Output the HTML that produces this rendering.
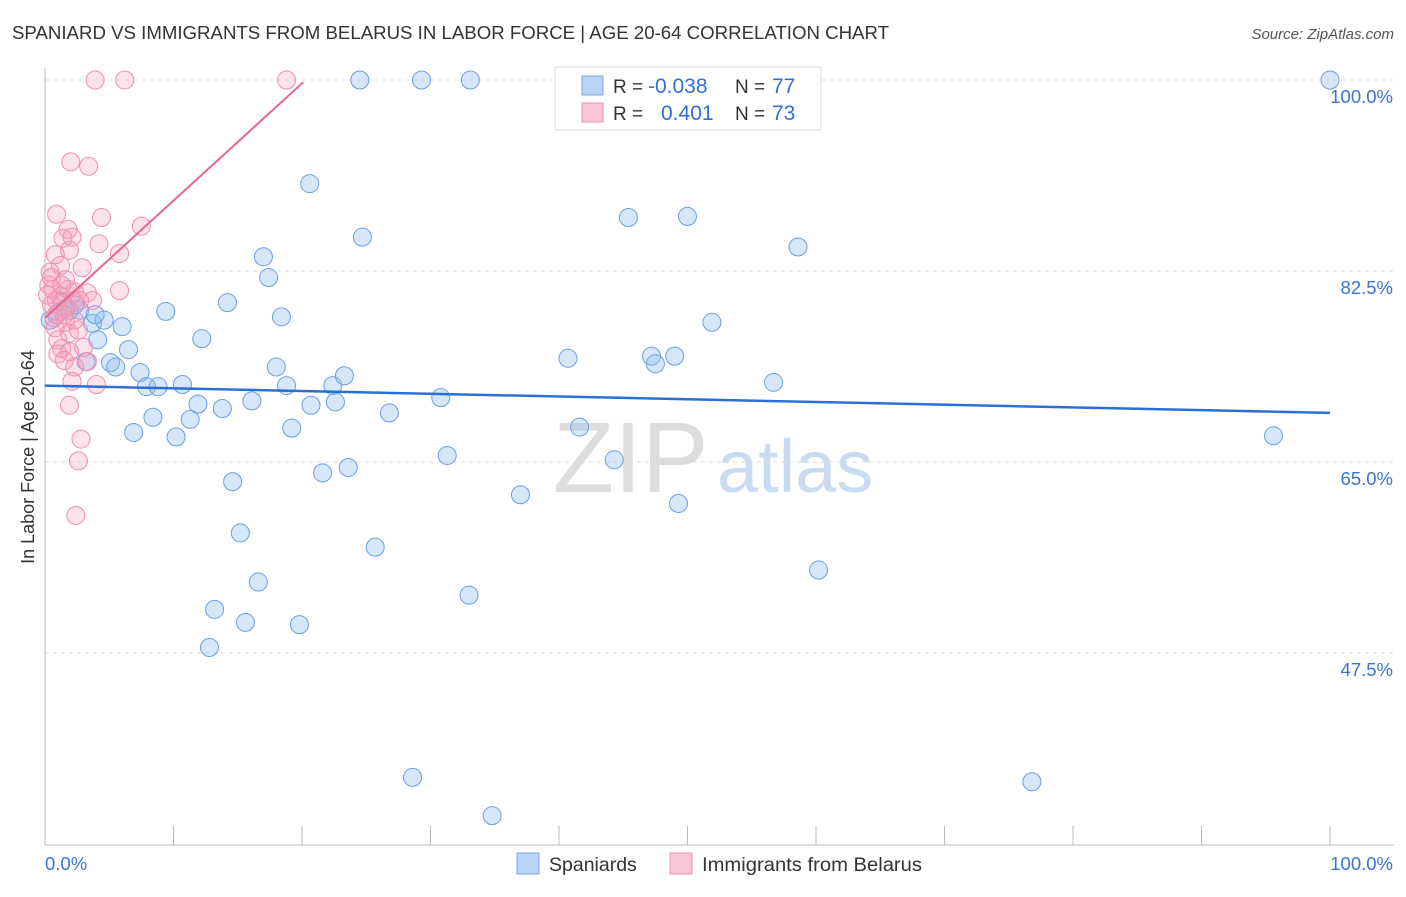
<!DOCTYPE html>
<html><head><meta charset="utf-8"><style>
body{margin:0;background:#fff;font-family:"Liberation Sans",sans-serif}
svg text{font-family:"Liberation Sans",sans-serif}
</style></head><body>
<svg id="chart" width="1406" height="892" xmlns="http://www.w3.org/2000/svg">
<text x="12" y="39" font-size="18.5" fill="#333" textLength="877" lengthAdjust="spacingAndGlyphs">SPANIARD VS IMMIGRANTS FROM BELARUS IN LABOR FORCE | AGE 20-64 CORRELATION CHART</text>
<text x="1394" y="39" font-size="15" fill="#555" text-anchor="end" font-style="italic">Source: ZipAtlas.com</text>
<g>
<text x="553" y="492" font-size="100" fill="#ddd" font-family="Liberation Serif">ZIP</text>
<text x="717" y="492" font-size="74" fill="#c9dbf1">atlas</text>
</g>
<g id="grid"></g>
<g id="axes"></g>
<g id="marks"></g>
<text transform="translate(34,457) rotate(-90)" font-size="18" fill="#333" text-anchor="middle">In Labor Force | Age 20-64</text>
<g>
<rect x="555" y="67" width="266" height="63" fill="#fff" stroke="#ddd"/>
<rect x="582" y="76" width="21" height="19" fill="#b8d3f5" stroke="#7aa7e6"/>
<rect x="582" y="103" width="21" height="19" fill="#f9c6d6" stroke="#ef92b0"/>
<text x="613" y="93" font-size="19" fill="#333">R = <tspan x="648" fill="#2f6fd6" font-size="21">-0.038</tspan><tspan x="735">N = </tspan><tspan x="772" fill="#2f6fd6" font-size="21">77</tspan></text>
<text x="613" y="120" font-size="19" fill="#333">R = <tspan x="661" fill="#2f6fd6" font-size="21">0.401</tspan><tspan x="735">N = </tspan><tspan x="772" fill="#2f6fd6" font-size="21">73</tspan></text>
</g>
<g>
<rect x="517" y="853" width="22" height="21" fill="#b8d3f5" stroke="#7aa7e6"/>
<text x="549" y="871" font-size="19.5" fill="#333">Spaniards</text>
<rect x="670" y="853" width="22" height="21" fill="#f9c6d6" stroke="#ef92b0"/>
<text x="702" y="871" font-size="19.5" fill="#333" textLength="220" lengthAdjust="spacingAndGlyphs">Immigrants from Belarus</text>
</g>
</svg>
<script>
const yTicks=[100,82.5,65,47.5];
const yTickLabels=["100.0%","82.5%","65.0%","47.5%"];
const xTickLabels=["0.0%","100.0%"];
const blueX=[0.4,1.3,1.9,3.7,4.1,4.6,6.0,6.5,5.1,5.5,3.2,7.4,7.9,8.8,8.4,6.9,9.4,10.2,10.7,11.3,11.9,12.2,13.8,14.2,14.6,15.2,16.1,16.6,13.2,15.6,12.8,17.0,17.4,18.4,18.0,18.8,19.2,19.8,20.6,20.7,21.6,22.4,22.6,23.3,23.6,24.5,24.7,25.7,26.8,28.6,29.3,30.8,31.3,33.0,33.1,34.8,37.0,40.7,41.6,44.3,45.4,47.2,47.5,49.0,49.3,50.0,51.9,56.7,58.6,60.2,76.8,95.6,100,2.7,0.9,2.3,3.9];
const blueY=[78.0,79.7,78.9,77.7,76.2,78.0,77.4,75.3,74.1,73.7,74.2,73.2,71.9,71.9,69.1,67.7,78.8,67.3,72.1,68.9,70.3,76.3,69.9,79.6,63.2,58.5,70.6,54.0,51.5,50.3,48.0,83.8,81.9,78.3,73.7,72.0,68.1,50.1,90.5,70.2,64.0,72.0,70.5,72.9,64.5,100,85.6,57.2,69.5,36.1,100,70.9,65.6,52.8,100,32.6,62.0,74.5,68.2,65.2,87.4,74.7,74.0,74.7,61.2,87.5,77.8,72.3,84.7,55.1,35.7,67.4,100,78.9,78.5,79.4,78.5];
const pinkX=[3.9,6.2,18.8,2.0,3.4,0.9,4.4,7.5,1.8,1.4,2.1,4.2,1.9,0.8,5.8,1.2,2.9,0.4,1.6,0.3,0.6,1.8,3.3,5.8,1.2,2.2,0.5,1.0,1.5,2.3,1.6,0.8,1.9,2.6,1.0,1.3,3.0,1.9,1.0,1.5,3.3,2.3,2.1,4.0,1.9,2.8,2.6,2.4,0.5,0.9,0.2,1.3,2.3,1.6,0.7,2.7,3.7];
const pinkY=[100,100,100,92.5,92.1,87.7,87.4,86.6,86.3,85.5,85.6,85.0,84.4,84.0,84.1,83.0,82.8,82.4,81.7,81.2,80.8,80.8,80.5,80.7,80.2,79.8,79.4,78.7,78.5,78.0,77.8,77.3,76.8,77.1,76.2,75.4,75.5,75.1,74.9,74.3,74.2,73.7,72.4,72.1,70.2,67.1,65.1,60.1,81.9,79.8,80.3,81.2,80.6,79.1,78.2,79.8,79.8];
const blueTrend=[72.0,69.5];
const pinkTrend=[78.2,99.8];
const pinkTrendEnd=20.1;
const NS="http://www.w3.org/2000/svg";
const sx=v=>45+v*12.85;
const sy=v=>80+(100-v)*10.914;
function mk(tag,attrs,parent){const e=document.createElementNS(NS,tag);for(const k in attrs)e.setAttribute(k,attrs[k]);parent.appendChild(e);return e;}
const grid=document.getElementById('grid'),axes=document.getElementById('axes'),marks=document.getElementById('marks');
yTicks.forEach((t,i)=>{
 const l=mk('line',{x1:45,x2:1394,y1:sy(t),y2:sy(t),stroke:'#ddd','stroke-dasharray':'4,4'},grid);
 
 
 const tx=mk('text',{x:1393,y:sy(t)+23,'font-size':18.5,fill:'#3a74d4','text-anchor':'end'},axes);
 tx.textContent=yTickLabels[i];
 
 
});
let a=mk('line',{x1:45,x2:45,y1:68,y2:845,stroke:'#bbb'},axes);


a=mk('line',{x1:45,x2:1394,y1:845,y2:845,stroke:'#bbb'},axes);


for(let i=0;i<=10;i++){
 const t=mk('line',{x1:sx(i*10),x2:sx(i*10),y1:826,y2:845,stroke:'#bbb'},axes);
 
 
}
let xl=mk('text',{x:45,y:870,'font-size':18.5,fill:'#3a74d4'},axes);xl.textContent=xTickLabels[0];


xl=mk('text',{x:1393,y:870,'font-size':18.5,fill:'#3a74d4','text-anchor':'end'},axes);xl.textContent=xTickLabels[1];


blueX.forEach((x,i)=>{
 const c=mk('circle',{cx:sx(x),cy:sy(blueY[i]),r:9,fill:'rgba(140,185,240,0.35)',stroke:'#6a9fe3','stroke-width':1},marks);
 
 
});
pinkX.forEach((x,i)=>{
 const c=mk('circle',{cx:sx(x),cy:sy(pinkY[i]),r:9,fill:'rgba(245,160,190,0.3)',stroke:'#ee8fae','stroke-width':1},marks);
 
 
});
let tl=mk('line',{x1:sx(0),x2:sx(100),y1:sy(blueTrend[0]),y2:sy(blueTrend[1]),stroke:'#2a6fd6','stroke-width':2.5},marks);


tl=mk('line',{x1:sx(0),x2:sx(pinkTrendEnd),y1:sy(pinkTrend[0]),y2:sy(pinkTrend[1]),stroke:'#e8648f','stroke-width':2},marks);


</script>
</body></html>
